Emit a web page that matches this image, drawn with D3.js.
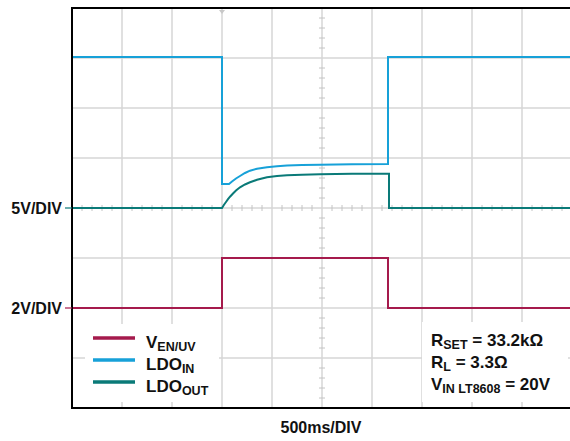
<!DOCTYPE html>
<html><head><meta charset="utf-8">
<script src="https://cdn.jsdelivr.net/npm/d3@7"></script>
<style>
html,body{margin:0;padding:0;background:#fff;}
text{font-family:"Liberation Sans",Arial,sans-serif;font-weight:bold;fill:#111;}
</style></head>
<body>
<svg id="c" width="570" height="441"></svg>
<script>
// time in ms, voltages in V
const ldoInT = [0, 1500, 1500, 1570, 1600, 1640, 1680, 1730, 1780, 1850, 1950, 2050, 2150, 2300, 2480, 2800, 3160, 3160, 5000];
const ldoInV = [15.1, 15.1, 2.4, 2.4, 2.65, 2.95, 3.2, 3.5, 3.73, 3.93, 4.07, 4.17, 4.25, 4.3, 4.33, 4.37, 4.4, 15.1, 15.1];
const ldoOutT = [0, 1500, 1520, 1540, 1560, 1580, 1610, 1640, 1680, 1730, 1780, 1850, 1950, 2050, 2150, 2300, 2480, 2800, 3170, 3170, 5000];
const ldoOutV = [0, 0, 0.33, 0.6, 0.88, 1.13, 1.45, 1.75, 2.07, 2.35, 2.57, 2.83, 3.07, 3.2, 3.27, 3.33, 3.38, 3.42, 3.42, 0, 0];
const enT = [0, 1500, 1500, 3160, 3160, 5000];
const enV = [0, 0, 2, 2, 0, 0];
const legendLabels = [["V","EN/UV"],["LDO","IN"],["LDO","OUT"]];
const noteLines = [["R","SET"," = 33.2kΩ"],["R","L"," = 3.3Ω"],["V","IN LT8608"," = 20V"]];
const colors = {en:"#a51a4c", in:"#17a1d8", out:"#0a7a78"};

const svg = d3.select("#c");
const L=72, R=572, T=8, B=408;
const x = d3.scaleLinear().domain([0,5000]).range([L,R]);
const y5 = d3.scaleLinear().domain([-20,20]).range([B,T]);   // 5V/DIV, ground at 0
const y2 = d3.scaleLinear().domain([-4,12]).range([B,T]);    // 2V/DIV

const g = svg.append("g");
// grid
const xt = d3.range(500,5000,500);
g.selectAll(".vg").data(xt).join("line")
 .attr("x1",d=>x(d)).attr("x2",d=>x(d)).attr("y1",T).attr("y2",B)
 .attr("stroke","#d6d6d6").attr("stroke-width",1.5);
const yt = d3.range(-15,20,5);
g.selectAll(".hg").data(yt).join("line")
 .attr("x1",L).attr("x2",R).attr("y1",d=>y5(d)).attr("y2",d=>y5(d))
 .attr("stroke","#d6d6d6").attr("stroke-width",1.5);
// minor ticks on center axes
const minorX = d3.range(100,5000,100).filter(d=>d%500!==0);
g.selectAll(".mx").data(minorX).join("line")
 .attr("x1",d=>x(d)).attr("x2",d=>x(d)).attr("y1",y5(0)-3).attr("y2",y5(0)+3)
 .attr("stroke","#c4c4c4").attr("stroke-width",1);
const minorY = d3.range(-19,20,1).filter(d=>d%5!==0);
g.selectAll(".my").data(minorY).join("line")
 .attr("x1",x(2500)-3).attr("x2",x(2500)+3).attr("y1",d=>y5(d)).attr("y2",d=>y5(d))
 .attr("stroke","#c4c4c4").attr("stroke-width",1);
// trigger marker
g.append("path").attr("d",`M${x(1500)-3},${T+2}L${x(1500)+3},${T+2}L${x(1500)},${T+6}Z`).attr("fill","#c8c8c8");

// legend/note white boxes
g.append("rect").attr("x",85).attr("y",324).attr("width",134).attr("height",78).attr("fill","#fff");
g.append("rect").attr("x",422).attr("y",322).attr("width",146).attr("height",80).attr("fill","#fff");

// traces
const line5 = (T_,V_) => d3.line()(T_.map((t,i)=>[x(t), y5(V_[i])]));
const line2 = (T_,V_) => d3.line()(T_.map((t,i)=>[x(t), y2(V_[i])]));
g.append("path").attr("d",line2(enT,enV)).attr("fill","none").attr("stroke",colors.en).attr("stroke-width",2);
g.append("path").attr("d",line5(ldoOutT,ldoOutV)).attr("fill","none").attr("stroke",colors.out).attr("stroke-width",2);
g.append("path").attr("d",line5(ldoInT,ldoInV)).attr("fill","none").attr("stroke",colors.in).attr("stroke-width",2);

// frame: top, left, bottom
g.append("path").attr("d",`M${R},${T}H${L}V${B}H${R}`).attr("fill","none").attr("stroke","#000").attr("stroke-width",2);

// left labels
g.append("line").attr("x1",65).attr("x2",L).attr("y1",y5(0)).attr("y2",y5(0)).attr("stroke",colors.out).attr("stroke-width",1.2);
g.append("line").attr("x1",65).attr("x2",L).attr("y1",y2(0)).attr("y2",y2(0)).attr("stroke",colors.en).attr("stroke-width",1.2);
g.append("text").attr("x",62).attr("y",y5(0)+6).attr("text-anchor","end").attr("font-size",16).text("5V/DIV");
g.append("text").attr("x",62).attr("y",y2(0)+6).attr("text-anchor","end").attr("font-size",16).text("2V/DIV");
g.append("text").attr("x",321).attr("y",433).attr("text-anchor","middle").attr("font-size",16).text("500ms/DIV");

// legend
const lc = [colors.en, colors.in, colors.out];
legendLabels.forEach((lab,i)=>{
  const yy = 338 + i*22;
  g.append("line").attr("x1",93).attr("x2",135).attr("y1",yy).attr("y2",yy).attr("stroke",lc[i]).attr("stroke-width",3.5);
  const t = g.append("text").attr("x",146).attr("y",yy+10).attr("font-size",17);
  t.append("tspan").text(lab[0]);
  t.append("tspan").attr("font-size",12.5).attr("dy",3).text(lab[1]);
});
// note
noteLines.forEach((ln,i)=>{
  const t = g.append("text").attr("x",431).attr("y",346+i*22).attr("font-size",17);
  t.append("tspan").text(ln[0]);
  t.append("tspan").attr("font-size",12.5).attr("dy",3).text(ln[1]);
  t.append("tspan").attr("dy",-3).text(ln[2]);
});
</script>
</body></html>
